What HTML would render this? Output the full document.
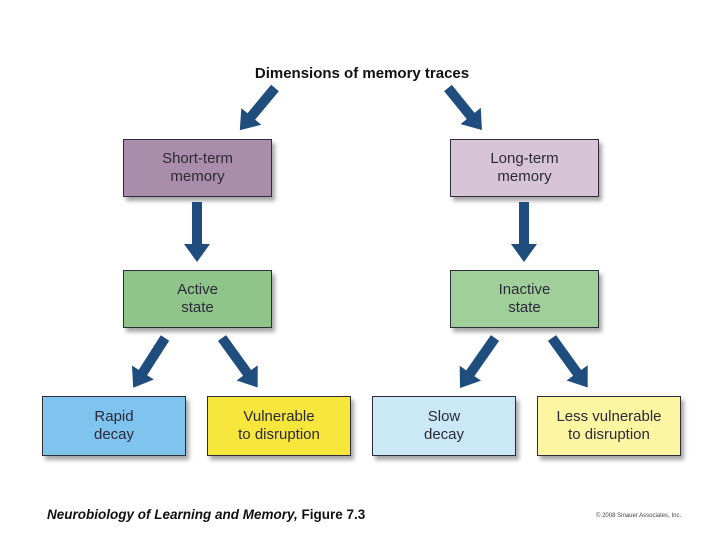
<!DOCTYPE html>
<html><head><meta charset="utf-8"><style>
body{margin:0;width:720px;height:540px;background:#fff;position:relative;overflow:hidden;font-family:"Liberation Sans",sans-serif}
.b{position:absolute;border:1.5px solid #2d2d3a;box-shadow:3px 4px 4px rgba(0,0,0,.35);display:flex;align-items:center;justify-content:center;text-align:center;font-size:15px;line-height:18px;color:#2a2a38;box-sizing:border-box}
.t{position:absolute;white-space:nowrap}
</style></head><body>
<div class="t" style="left:0;width:724px;text-align:center;top:65px;font-weight:bold;font-size:15px;color:#111">Dimensions of memory traces</div>
<div class="b" style="left:123px;top:139px;width:149px;height:58px;background:#aa8daa">Short-term<br>memory</div>
<div class="b" style="left:450px;top:139px;width:149px;height:58px;background:#d8c4d7">Long-term<br>memory</div>
<div class="b" style="left:123px;top:270px;width:149px;height:58px;background:#8fc58b">Active<br>state</div>
<div class="b" style="left:450px;top:270px;width:149px;height:58px;background:#a0cf99">Inactive<br>state</div>
<div class="b" style="left:42px;top:396px;width:144px;height:60px;background:#7fc3ef">Rapid<br>decay</div>
<div class="b" style="left:207px;top:396px;width:144px;height:60px;background:#f7e63c">Vulnerable<br>to disruption</div>
<div class="b" style="left:372px;top:396px;width:144px;height:60px;background:#cbe8f6">Slow<br>decay</div>
<div class="b" style="left:537px;top:396px;width:144px;height:60px;background:#fcf6a2">Less vulnerable<br>to disruption</div>
<svg width="720" height="540" style="position:absolute;left:0;top:0" fill="#1f4d7e">
<g transform="translate(275,88) rotate(129.8)"><polygon points="0,-5 37,-5 37,-13 55,0 37,13 37,5 0,5"/></g>
<g transform="translate(448,88) rotate(51)"><polygon points="0,-5 36,-5 36,-13 54,0 36,13 36,5 0,5"/></g>
<g transform="translate(197,202) rotate(90)"><polygon points="0,-5 42,-5 42,-13 60,0 42,13 42,5 0,5"/></g>
<g transform="translate(524,202) rotate(90)"><polygon points="0,-5 42,-5 42,-13 60,0 42,13 42,5 0,5"/></g>
<g transform="translate(165,338) rotate(122.6)"><polygon points="0,-5 41,-5 41,-13 59,0 41,13 41,5 0,5"/></g>
<g transform="translate(222,338) rotate(54.2)"><polygon points="0,-5 43,-5 43,-13 61,0 43,13 43,5 0,5"/></g>
<g transform="translate(495,338) rotate(125)"><polygon points="0,-5 43,-5 43,-13 61,0 43,13 43,5 0,5"/></g>
<g transform="translate(552,338) rotate(54.2)"><polygon points="0,-5 43,-5 43,-13 61,0 43,13 43,5 0,5"/></g>
</svg>
<div class="t" style="left:47px;top:507px;font-size:13.5px;font-weight:bold;color:#111"><i>Neurobiology of Learning and Memory,</i> Figure 7.3</div>
<div class="t" style="left:596px;top:513px;font-size:6px;color:#444">© 2008 Sinauer Associates, Inc.</div>
</body></html>
